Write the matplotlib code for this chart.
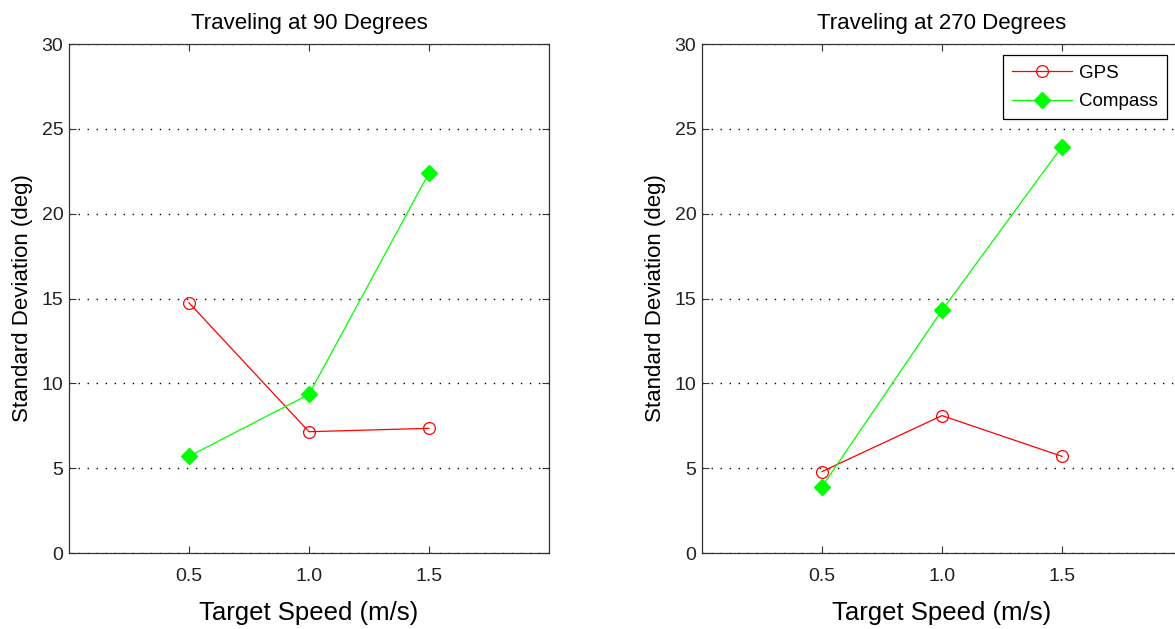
import matplotlib.pyplot as plt
import numpy as np

plt.rcParams['font.family'] = ['Liberation Sans', 'DejaVu Sans']

speeds = [0.5, 1.0, 1.5]
gps_90 = [14.75, 7.15, 7.35]
compass_90 = [5.7, 9.35, 22.4]
gps_270 = [4.8, 8.1, 5.7]
compass_270 = [3.9, 14.3, 23.95]
titles = ['Traveling at 90 Degrees', 'Traveling at 270 Degrees']

fig = plt.figure(figsize=(11.75, 6.29), dpi=100)
ax1 = fig.add_axes([0.0587, 0.1208, 0.4085, 0.8092])
ax2 = fig.add_axes([0.5974, 0.1208, 0.4085, 0.8092])

for ax, gps, comp, title in [(ax1, gps_90, compass_90, titles[0]),
                             (ax2, gps_270, compass_270, titles[1])]:
    ax.plot(speeds, gps, color='red', lw=0.9, marker='o', ms=8.5,
            mfc='none', mec='red', mew=0.9, label='GPS')
    ax.plot(speeds, comp, color='#00ff00', lw=0.9, marker='D', ms=8,
            mfc='#00ff00', mec='#00ff00', label='Compass')
    ax.set_xlim(0, 2)
    ax.set_ylim(0, 30)
    ax.set_xticks(speeds)
    ax.set_xticklabels(['0.5', '1.0', '1.5'])
    ax.set_yticks(np.arange(0, 31, 5))
    ax.yaxis.grid(True, linestyle=(0, (1, 5.5)), color='black', lw=1)
    ax.tick_params(direction='in', top=True, right=True, labelsize=14,
                   length=5, width=0.8, colors='#333333', labelcolor='#222222')
    ax.tick_params(axis='x', pad=11)
    ax.tick_params(axis='y', pad=4)
    for s in ax.spines.values():
        s.set_color('#333333')
        s.set_linewidth(0.9)
    ax.set_title(title, fontsize=16, pad=11)
    ax.set_xlabel('Target Speed (m/s)', fontsize=18.5, labelpad=11)
    ax.set_ylabel('Standard Deviation (deg)', fontsize=16, labelpad=6)

leg = ax2.legend(loc='upper left', bbox_to_anchor=(0.627, 0.978), fontsize=13.5,
                 fancybox=False, framealpha=1, edgecolor='black',
                 handlelength=3.2, handletextpad=0.35, borderpad=0.5,
                 labelspacing=0.6, borderaxespad=0)
leg.get_frame().set_linewidth(0.9)

fig.savefig('out.png', dpi=100)
